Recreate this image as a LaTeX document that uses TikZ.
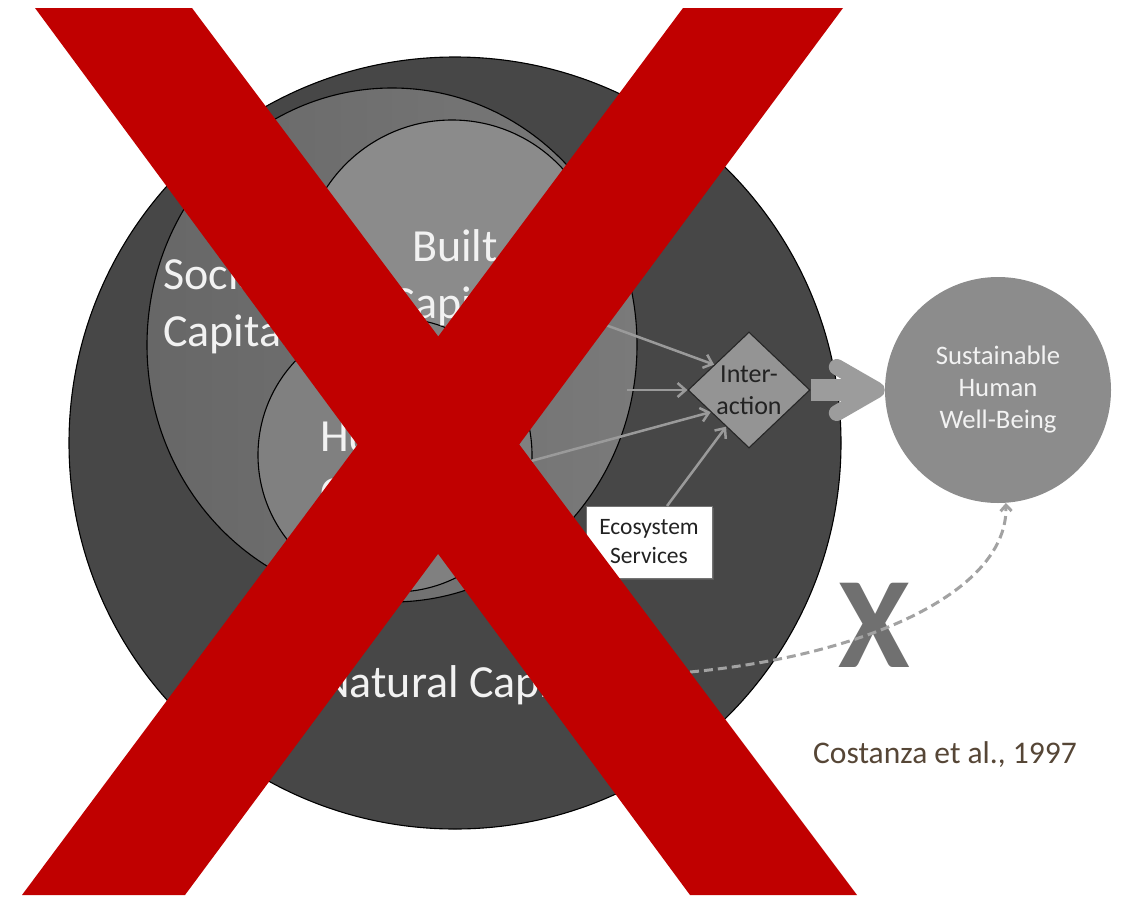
\documentclass[tikz,border=0pt]{standalone}
\usepackage{fontspec}
\setmainfont{Carlito}
\usetikzlibrary{arrows.meta,shapes.geometric,shadows}
\definecolor{natfill}{HTML}{474747}
\definecolor{socleft}{HTML}{676767}
\definecolor{socright}{HTML}{7A7A7A}
\definecolor{builtfill}{HTML}{8B8B8B}
\definecolor{humfill}{HTML}{808080}
\definecolor{interfill}{HTML}{949494}
\definecolor{wbfill}{HTML}{8C8C8C}
\definecolor{arrowgray}{HTML}{9A9A9A}
\definecolor{bigarrowgray}{HTML}{9C9C9C}
\definecolor{dashgray}{HTML}{A2A2A2}
\definecolor{xgray}{HTML}{707070}
\definecolor{labelwhite}{HTML}{F2F2F2}
\definecolor{redx}{HTML}{C00000}
\definecolor{citebrown}{HTML}{564636}
\definecolor{darktext}{HTML}{222222}
\begin{document}
\begin{tikzpicture}[x=1pt,y=-1pt,
  capfill/.style={draw=black, line width=1.1pt, inner sep=0pt},
  biglabel/.style={text=labelwhite, font=\fontsize{46}{57}\selectfont, inner sep=0pt},
  thinarrow/.style={draw=arrowgray, line width=2.5pt, -{Straight Barb[length=8pt,width=14pt]}},
  bigarrow/.style={draw=bigarrowgray, line width=22pt, -{Straight Barb[length=40pt,width=46pt,round,line width=16pt 0]}},
  dasharrow/.style={draw=dashgray, line width=3pt, dash pattern=on 9pt off 5pt, -{Straight Barb[length=6pt,width=11pt]}},
  redband/.style={fill=redx}
]
\useasboundingbox (0,0) rectangle (1127,897);
\fill[white] (0,0) rectangle (1127,897);

% capitals
\node[capfill, circle, fill=natfill, minimum size=772pt] (natural) at (455,443) {};
\node[capfill, ellipse, left color=socleft, right color=socright, minimum width=490pt, minimum height=514pt] (social) at (392,345) {};
\node[capfill, circle, fill=builtfill, minimum size=300pt] (built) at (452,270) {};
\node[capfill, circle, fill=humfill, minimum size=274pt] (human) at (395,455) {};

\node[biglabel, anchor=base west, align=left] (soclabel) at (163,346) {Social\\Capital};
\node[biglabel, anchor=base, align=center] (builtlabel) at (455,318) {Built\\Capital};
\node[biglabel, anchor=base west, align=left] (humlabel) at (320,508) {Human\\Capital};
\node[biglabel, anchor=base west] (natlabel) at (320,697) {Natural Capital};

% interaction
\node[diamond, draw=black!85, line width=1.1pt, fill=interfill, minimum width=122pt, minimum height=116pt, inner sep=0pt, text=darktext, font=\fontsize{26}{32}\selectfont, align=center] (inter) at (749,390) {Inter-\\action};

\node[draw=black!55, line width=0.8pt, fill=white, minimum width=126pt, minimum height=72pt, inner sep=0pt, font=\fontsize{23.5}{29}\selectfont, align=center, text=darktext, drop shadow={opacity=0.35, shadow xshift=2pt, shadow yshift=-2pt}] (eco) at (649,542) {Ecosystem\\Services};

\coordinate (b1) at (592,320);
\coordinate (s1) at (627,390);
\coordinate (h1) at (520,464);
\coordinate (e1) at (667,506);
\draw[thinarrow] (b1) -- (inter.144);
\draw[thinarrow] (s1) -- (inter.west);
\draw[thinarrow] (h1) -- (inter.210);
\draw[thinarrow] (e1) -- (inter.238);

% well-being
\node[circle, fill=wbfill, minimum size=226pt, inner sep=0pt, text=labelwhite, font=\fontsize{26.7}{32}\selectfont, align=center] (wb) at (998,390) {Sustainable\\Human\\Well-Being};

\draw[bigarrow] (inter.east) -- (wb.west);

\node[font=\fontsize{130}{130}\selectfont\bfseries, text=xgray, anchor=base, inner sep=0pt] (xmark) at (874,667) {X};

\coordinate (d0) at (690,672);
\draw[dasharrow] (d0) .. controls (870,655) and (1008,590) .. (wb.-86);

\node[anchor=base west, font=\fontsize{31.5}{38}\selectfont, text=citebrown, inner sep=0pt] (cite) at (813,763) {Costanza et al., 1997};

% red cross
\fill[redband] (35,8) -- (192,8) -- (857,895) -- (690,895) -- cycle;
\fill[redband] (683,8) -- (843,8) -- (185,895) -- (22,895) -- cycle;
\end{tikzpicture}
\end{document}
